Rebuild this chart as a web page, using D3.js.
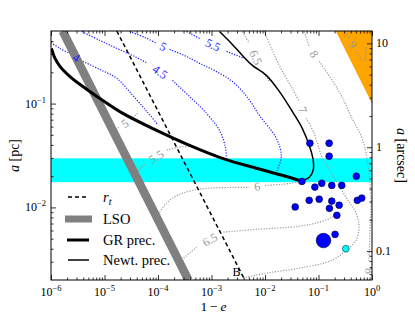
<!DOCTYPE html>
<html>
<head>
<meta charset="utf-8">
<script src="https://cdn.jsdelivr.net/npm/d3@7"></script>
<style>
  body { margin: 0; background: #fff; }
  svg, text { font-family: "Liberation Serif", "Times New Roman", serif; }
</style>
</head>
<body>
<div id="chart"></div>
<script>
/* global d3 */

// axes
const xTicks = [1e-6, 1e-5, 1e-4, 1e-3, 1e-2, 1e-1, 1];
const xTickExp = ['−6', '−5', '−4', '−3', '−2', '−1', '0'];
const yTicks = [1e-2, 1e-1];
const yTickExp = ['−2', '−1'];
const arcTicks = [0.1, 1, 10];
const arcTickLabels = ['0.1', '1', '10'];
const pcPerArcsec = 0.038;

// regions, lines  (1-e, a [pc])
const band = [0.0175, 0.0297];
const orange = [[0.21, 0.5], [1, 0.5], [1, 0.1]];
const lso = [[1.65e-6, 0.5], [3.7e-4, 0.002]];
const rt = [[1.7e-5, 0.5], [4.2e-3, 0.002]];
const grPrec = [[1.02e-6, 0.340], [1.19e-6, 0.272], [1.47e-6, 0.228], [2.26e-6, 0.182], [3.94e-6, 0.146],
  [8.18e-6, 0.112], [2.20e-5, 0.0805], [9.44e-5, 0.0552], [3.89e-4, 0.0396],
  [1.60e-3, 0.0297], [6.89e-3, 0.0238], [0.0284, 0.0195], [0.0475, 0.0179]];
const newtPrec = [[1.41e-3, 0.494], [2.36e-3, 0.379], [3.79e-3, 0.290], [5.81e-3, 0.233], [0.0106, 0.187],
  [0.0185, 0.131], [0.0323, 0.0841], [0.0497, 0.0578], [0.0670, 0.0396], [0.0796, 0.0284],
  [0.0796, 0.0228], [0.0670, 0.0195], [0.0475, 0.0179]];

// stars
const stars = [[0.069, 0.0415], [0.158, 0.0415], [0.158, 0.0311], [0.509, 0.0200], [0.049, 0.0178],
  [0.0855, 0.0157], [0.115, 0.0171], [0.177, 0.0163], [0.272, 0.0163], [0.067, 0.0117],
  [0.103, 0.0120], [0.177, 0.0115], [0.243, 0.0105], [0.160, 0.0098], [0.532, 0.0117],
  [0.643, 0.0123], [0.0367, 0.0101], [0.220, 0.0084], [0.204, 0.0055]];
const bigStar = [[0.124, 0.0048]];
const cyanStar = [[0.324, 0.0040]];

// contours: two pieces each, label sits in the gap
const blue4 = [[[1.0e-6, 0.387], [1.47e-6, 0.340], [2.26e-6, 0.304]],
  [[3.94e-6, 0.255], [8.18e-6, 0.213], [1.70e-5, 0.175], [3.37e-5, 0.120], [6.15e-5, 0.0841], [9.86e-5, 0.0631]]];
const blue45 = [[[3.79e-6, 0.494], [8.18e-6, 0.406], [1.70e-5, 0.340], [3.67e-5, 0.284], [6.41e-5, 0.244]],
  [[1.87e-4, 0.167], [3.89e-4, 0.117], [8.07e-4, 0.0805], [1.41e-3, 0.0552], [1.82e-3, 0.0379], [1.90e-3, 0.0297]]];
const blue5 = [[[2.96e-5, 0.494], [5.65e-5, 0.434], [9.44e-5, 0.380]],
  [[1.65e-4, 0.332], [3.14e-4, 0.290], [5.97e-4, 0.244], [1.14e-3, 0.208], [2.46e-3, 0.163], [4.69e-3, 0.115],
   [7.83e-3, 0.0771], [0.0163, 0.0462], [0.0201, 0.0310], [0.0163, 0.0218]]];
const blue55 = [[[3.42e-4, 0.494], [5.97e-4, 0.424]], [[1.91e-3, 0.318], [4.12e-3, 0.272]]];

const gray5 = [[[1.49e-5, 0.0541], [1.85e-5, 0.0590]], [[3.10e-5, 0.0705], [4.18e-5, 0.0805]]];
const gray55 = [[[4.18e-5, 0.0228], [5.89e-5, 0.0266]], [[1.45e-4, 0.0355], [2.32e-4, 0.0379], [4.24e-4, 0.0387]]];
const gray6 = [[[1.07e-4, 0.00899], [1.33e-4, 0.0105], [1.87e-4, 0.0123], [2.88e-4, 0.0137], [5.97e-4, 0.0150], [2.46e-3, 0.0156], [5.11e-3, 0.0156]],
  [[0.0101, 0.0163], [0.0210, 0.0167], [0.0437, 0.0175]]];
const gray65low = [[[3.01e-4, 0.00325], [5.26e-4, 0.00414]],
  [[1.67e-3, 0.00578], [7.83e-3, 0.00617], [0.0437, 0.00659], [0.103, 0.00721], [0.180, 0.00805], [0.243, 0.00899]]];
const gray65up = [[[3.79e-3, 0.494], [5.11e-3, 0.379]], [[8.91e-3, 0.204], [0.0121, 0.163]]];
const gray7 = [[[9.71e-3, 0.494], [0.0185, 0.233], [0.0323, 0.140], [0.0437, 0.105]],
  [[0.0589, 0.0721], [0.0830, 0.0516], [0.117, 0.0304], [0.172, 0.0218], [0.328, 0.0125], [0.504, 0.00879],
   [0.573, 0.00646], [0.504, 0.00484], [0.328, 0.00387], [0.180, 0.00310], [0.0437, 0.00260], [0.0106, 0.00233], [3.79e-3, 0.00208]]];
const gray8 = [[[0.0541, 0.494], [0.0670, 0.355]],
  [[0.103, 0.255], [0.243, 0.131], [0.424, 0.0721], [0.652, 0.0462], [0.807, 0.0297], [0.957, 0.0117], [0.918, 0.00604], [0.879, 0.00297]]];
const gray9 = [[[0.328, 0.494], [0.373, 0.424]], [[0.504, 0.325], [0.652, 0.260], [0.741, 0.260], [0.773, 0.355]]];

const blueContours = [['4', blue4], ['4.5', blue45], ['5', blue5], ['5.5', blue55]];
const grayContours = [['5', gray5], ['5.5', gray55], ['6', gray6], ['6.5', gray65low], ['6.5', gray65up],
  ['7', gray7], ['8', gray8], ['9', gray9]];
const extraLabel = ['8', 0.90, 0.00245];
const pointB = ['B', 2.92e-3, 0.00238];

const width = 415, height = 312;
const margin = { top: 31, right: 43, bottom: 32, left: 51 };
const w = width - margin.left - margin.right;
const h = height - margin.top - margin.bottom;
const serif = '"Liberation Serif", "Times New Roman", serif';

const x = d3.scaleLog().domain([1e-6, 1]).range([0, w]);
const y = d3.scaleLog().domain([0.002, 0.5]).range([h, 0]);
const yArc = d3.scaleLog().domain([0.002 / pcPerArcsec, 0.5 / pcPerArcsec]).range([h, 0]);

const svg = d3.select('#chart').append('svg')
  .attr('width', width).attr('height', height)
  .attr('font-family', serif);
svg.append('defs').append('clipPath').attr('id', 'clip')
  .append('rect').attr('width', w).attr('height', h);

const g = svg.append('g').attr('transform', 'translate(' + margin.left + ',' + margin.top + ')');
const plot = g.append('g').attr('clip-path', 'url(#clip)');

const line = d3.line().x(d => x(d[0])).y(d => y(d[1]));
const smooth = d3.line().x(d => x(d[0])).y(d => y(d[1])).curve(d3.curveCatmullRom.alpha(0.5));

// band and forbidden region
plot.append('rect')
  .attr('x', 0).attr('width', w)
  .attr('y', y(band[1])).attr('height', y(band[0]) - y(band[1]))
  .attr('fill', '#00ffff');
plot.append('path').attr('d', line(orange) + 'Z').attr('fill', '#ffa500');

// contours
let drawContours = function(list, color) {
  list.forEach(c => {
    c[1].forEach(s => {
      plot.append('path')
        .attr('d', smooth(s))
        .attr('fill', 'none')
        .attr('stroke', color)
        .attr('stroke-width', 1.2)
        .attr('stroke-dasharray', '1.2,1.5');
    });
  });
};
drawContours(blueContours, '#1a1aff');
drawContours(grayContours, '#999999');

// lso, tidal radius
plot.append('path').attr('d', line(lso))
  .attr('stroke', '#808080').attr('stroke-width', 8.5).attr('fill', 'none');
plot.append('path').attr('d', line(rt))
  .attr('stroke', 'black').attr('stroke-width', 1.5).attr('stroke-dasharray', '4,3').attr('fill', 'none');

// precession lines
plot.append('path').attr('d', smooth(grPrec))
  .attr('stroke', 'black').attr('stroke-width', 3).attr('fill', 'none');
plot.append('path').attr('d', smooth(newtPrec))
  .attr('stroke', 'black').attr('stroke-width', 1.5).attr('fill', 'none');

// contour labels
let drawLabels = function(list, color) {
  list.forEach(c => {
    let a = c[1][0][c[1][0].length - 1], b = c[1][1][0];
    let x0 = x(a[0]), y0 = y(a[1]), x1 = x(b[0]), y1 = y(b[1]);
    let ang = Math.atan2(y1 - y0, x1 - x0) * 180 / Math.PI;
    if (ang > 90) ang -= 180;
    if (ang < -90) ang += 180;
    plot.append('text')
      .attr('transform', 'translate(' + (x0 + x1) / 2 + ',' + (y0 + y1) / 2 + ') rotate(' + ang + ')')
      .attr('text-anchor', 'middle')
      .attr('dy', '0.35em')
      .style('font-size', '12px')
      .style('fill', color)
      .text(c[0]);
  });
};
drawLabels(blueContours, '#1a1aff');
drawLabels(grayContours, '#999999');
plot.append('text')
  .attr('transform', 'translate(' + x(extraLabel[1]) + ',' + y(extraLabel[2]) + ') rotate(80)')
  .attr('text-anchor', 'middle').attr('dy', '0.35em')
  .style('font-size', '12px').style('fill', '#999999')
  .text(extraLabel[0]);
plot.append('text')
  .attr('x', x(pointB[1])).attr('y', y(pointB[2])).attr('dy', '0.35em')
  .attr('text-anchor', 'middle')
  .style('font-size', '12px')
  .text(pointB[0]);

// stars
plot.selectAll('circle.star').data(stars).join('circle')
  .attr('class', 'star')
  .attr('cx', d => x(d[0])).attr('cy', d => y(d[1])).attr('r', 3.4)
  .attr('fill', '#0000ff').attr('stroke', '#000033').attr('stroke-width', 0.6);
plot.selectAll('circle.big').data(bigStar).join('circle')
  .attr('class', 'big')
  .attr('cx', d => x(d[0])).attr('cy', d => y(d[1])).attr('r', 7.3)
  .attr('fill', '#0000ff').attr('stroke', '#000033').attr('stroke-width', 0.6);
plot.selectAll('circle.cyan').data(cyanStar).join('circle')
  .attr('class', 'cyan')
  .attr('cx', d => x(d[0])).attr('cy', d => y(d[1])).attr('r', 3.4)
  .attr('fill', '#00ffff').attr('stroke', '#003333').attr('stroke-width', 0.6);

// axes, ticks inward
let minors = function(lo, hi) {
  let out = [];
  for (let e = Math.floor(Math.log10(lo)); e <= Math.ceil(Math.log10(hi)); e++) {
    for (let k = 2; k <= 9; k++) {
      let v = k * Math.pow(10, e);
      if (v > lo * 1.0001 && v < hi * 0.9999) out.push(v);
    }
  }
  return out;
};
let tickAxis = function(axis, vals, size, transform) {
  let a = g.append('g').attr('transform', transform || null)
    .call(axis.tickValues(vals).tickSize(-size).tickFormat(''));
  a.select('.domain').remove();
  a.selectAll('line').attr('stroke', 'black').attr('stroke-width', 0.8);
};
tickAxis(d3.axisBottom(x), xTicks, 5, 'translate(0,' + h + ')');
tickAxis(d3.axisBottom(x), minors(1e-6, 1), 2.5, 'translate(0,' + h + ')');
tickAxis(d3.axisTop(x), xTicks, 5);
tickAxis(d3.axisTop(x), minors(1e-6, 1), 2.5);
tickAxis(d3.axisLeft(y), yTicks, 5);
tickAxis(d3.axisLeft(y), minors(0.002, 0.5), 2.5);
tickAxis(d3.axisRight(yArc), arcTicks, 5, 'translate(' + w + ',0)');
tickAxis(d3.axisRight(yArc), minors(0.002 / pcPerArcsec, 0.5 / pcPerArcsec), 2.5, 'translate(' + w + ',0)');

g.append('rect').attr('width', w).attr('height', h)
  .attr('fill', 'none').attr('stroke', 'black').attr('stroke-width', 1);

// tick labels
g.selectAll('text.xt').data(xTicks).join('text')
  .attr('class', 'xt')
  .attr('x', d => x(d)).attr('y', h + 16)
  .attr('text-anchor', 'middle')
  .style('font-size', '12px')
  .each(function(d, i) {
    let t = d3.select(this);
    t.append('tspan').text('10');
    t.append('tspan').attr('dy', -5).style('font-size', '8.5px').text(xTickExp[i]);
  });
g.selectAll('text.yt').data(yTicks).join('text')
  .attr('class', 'yt')
  .attr('x', -5).attr('y', d => y(d) + 4)
  .attr('text-anchor', 'end')
  .style('font-size', '12px')
  .each(function(d, i) {
    let t = d3.select(this);
    t.append('tspan').text('10');
    t.append('tspan').attr('dy', -5).style('font-size', '8.5px').text(yTickExp[i]);
  });
g.selectAll('text.at').data(arcTicks).join('text')
  .attr('class', 'at')
  .attr('x', w + 4).attr('y', d => yArc(d) + 4)
  .style('font-size', '12px')
  .text((d, i) => arcTickLabels[i]);

// axis titles
let xl = svg.append('text')
  .attr('x', margin.left + w / 2 + 2).attr('y', 310.5)
  .attr('text-anchor', 'middle').style('font-size', '13.5px');
xl.append('tspan').text('1\u2009−\u2009');
xl.append('tspan').style('font-style', 'italic').text('e');

let yl = svg.append('text')
  .attr('transform', 'translate(19,' + (margin.top + h / 2) + ') rotate(-90)')
  .attr('text-anchor', 'middle').style('font-size', '14px');
yl.append('tspan').style('font-style', 'italic').text('a');
yl.append('tspan').text(' [pc]');

let yr = svg.append('text')
  .attr('transform', 'translate(397,' + (margin.top + h / 2) + ') rotate(90)')
  .attr('text-anchor', 'middle').style('font-size', '14px');
yr.append('tspan').style('font-style', 'italic').text('a');
yr.append('tspan').text(' [arcsec]');

// legend
let legend = svg.append('g');
let legendY = [197, 219, 240, 260];
legend.append('line').attr('x1', 68).attr('x2', 89).attr('y1', legendY[0]).attr('y2', legendY[0])
  .attr('stroke', 'black').attr('stroke-width', 1.5).attr('stroke-dasharray', '4,3');
legend.append('line').attr('x1', 65).attr('x2', 92).attr('y1', legendY[1]).attr('y2', legendY[1])
  .attr('stroke', '#808080').attr('stroke-width', 7);
legend.append('line').attr('x1', 67).attr('x2', 89).attr('y1', legendY[2]).attr('y2', legendY[2])
  .attr('stroke', 'black').attr('stroke-width', 3);
legend.append('line').attr('x1', 68).attr('x2', 89).attr('y1', legendY[3]).attr('y2', legendY[3])
  .attr('stroke', 'black').attr('stroke-width', 1.5);

let lt = legend.append('text').attr('x', 103).attr('y', legendY[0] + 5).style('font-size', '14.5px');
lt.append('tspan').style('font-style', 'italic').text('r');
lt.append('tspan').style('font-style', 'italic').style('font-size', '10px').attr('dy', 3).text('t');
legend.append('text').attr('x', 103).attr('y', legendY[1] + 5).style('font-size', '14.5px').text('LSO');
legend.append('text').attr('x', 103).attr('y', legendY[2] + 5).style('font-size', '14.5px').text('GR prec.');
legend.append('text').attr('x', 103).attr('y', legendY[3] + 5).style('font-size', '14.5px').text('Newt. prec.');
</script>
</body>
</html>
